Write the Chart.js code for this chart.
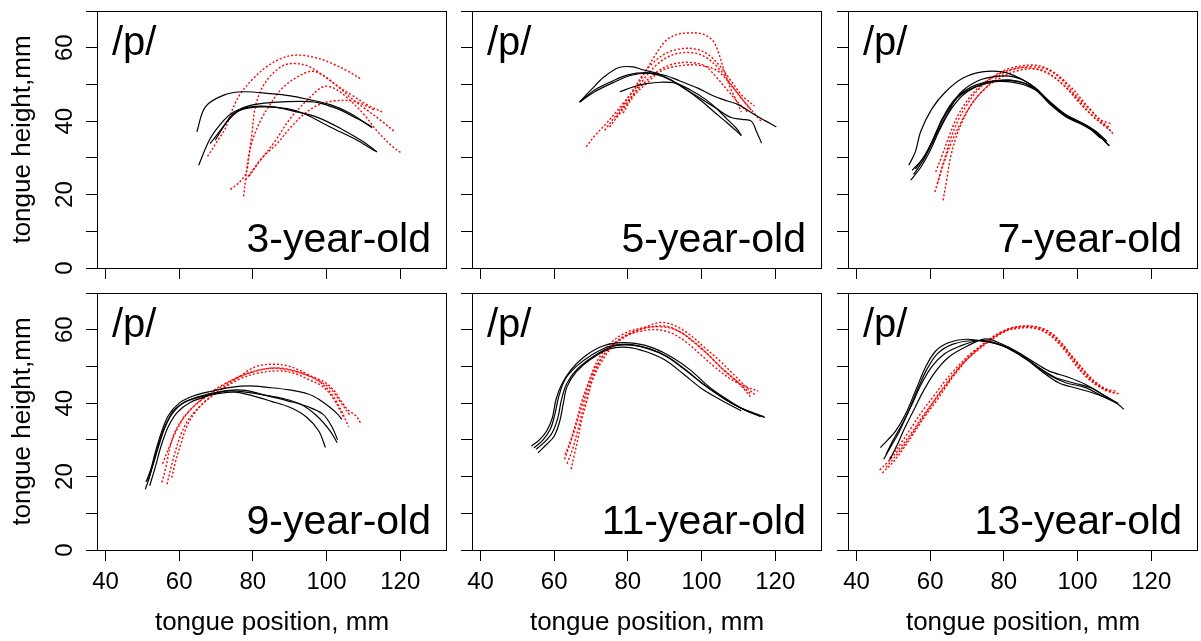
<!DOCTYPE html>
<html>
<head>
<meta charset="utf-8">
<script src="https://cdn.jsdelivr.net/npm/chart.js@4"></script>
<style>
  body { margin: 0; background: #fff; width: 1201px; height: 641px; position: relative; overflow: hidden; }
  canvas { position: absolute; }
</style>
</head>
<body>
<script>
const xTicks = [40, 60, 80, 100, 120];
const xLabels = [40, 60, 80, 100, 120];
const yTicks = [0, 10, 20, 30, 40, 50, 60, 70];
const yLabels = [0, 20, 40, 60];
const ageLabels = ['3-year-old', '5-year-old', '7-year-old', '9-year-old', '11-year-old', '13-year-old'];
const phoneme = '/p/';
const xTitle = 'tongue position, mm';
const yTitle = 'tongue height,mm';

// each curve is a list of [position, height] points
const black3 = [
  [[64.8,37.1],[67.1,43.9],[72.1,47.1],[77.5,48.0],[84.7,47.5],[90.2,46.9],[94.7,46.0],[101.0,44.5],[106.5,42.1],[112.4,38.2]],
  [[65.3,28.0],[68.4,35.2],[72.1,40.2],[74.8,42.5],[79.3,44.3],[85.6,45.1],[92.9,45.4],[97.4,45.1],[102.9,43.4],[108.3,40.7],[112.4,38.4]],
  [[68.4,33.9],[71.6,38.0],[74.8,42.1],[79.3,43.9],[85.6,43.9],[92.0,42.5],[97.4,41.1],[103.8,38.0],[110.1,34.3],[113.7,31.6]],
  [[69.8,34.8],[73.0,39.8],[76.6,43.0],[82.9,43.9],[89.3,43.4],[93.8,42.1],[101.0,38.4],[108.3,34.8],[113.3,31.8]]
];
const red3 = [
  [[67.7,30.4],[70,34],[72.5,38],[74,42],[75.5,45.5],[77,48],[80,51.5],[84,55],[88,57.2],[92,58],[97,57.3],[102,55.5],[106,53.5],[109.2,51.6]],
  [[73.9,21.4],[76.5,23.5],[78.2,26],[79,31],[79.8,37],[80.5,43],[82,48],[84.5,52],[88,55],[91,55.7],[95,55],[99,52.5],[103,49.5],[107,47],[111,44.5],[115.1,42.5]],
  [[77.5,19.5],[78,24],[78.8,30],[80,35],[82,40],[85,45],[88,49],[92,52],[96,53.6],[99,52.5],[103,49.5],[107,46],[111,43],[115,40],[118.3,37.3]],
  [[78,24],[81,28],[86,34.5],[90,40.5],[95,46],[99,49.3],[102,49],[106,46],[110,42],[114,37],[118,33],[120.5,31.2]],
  [[79,25],[82.5,30],[86.6,33.9],[90,38],[94,42],[98,44.5],[102,45.5],[107,45.5],[110,44.5],[113,43]]
];

const black5 = [
  [[66.9,45.2],[70,48.5],[73.5,52],[77.6,54.6],[81.4,54.8],[84,54],[88,53],[92,51],[96,48.5],[100,46],[104,43.5],[108,41],[111,40.5],[113.5,40],[115,37],[116.3,34.0]],
  [[66.9,45.2],[71,48.5],[76,51],[80,52.6],[85,53.2],[90,52.5],[94,51],[99,49],[103,47],[107,45.5],[110,44.5],[114,42],[117.5,40],[120.3,38.4]],
  [[66.9,45.2],[71,48],[76,50.5],[81,52.5],[86,53],[91,51.5],[96,48.5],[100,45.5],[104,42],[107,39.5],[110.8,36.1]],
  [[77.8,48],[81.4,49.3],[85,50.2],[89,50.6],[93,50.3],[97,48.5],[101,46],[104,43.5],[107,40.5],[109.5,38],[110.8,36.1]]
];
const red5 = [
  [[68.7,33.0],[71,36],[74.1,39.3],[78.7,44.8],[82.3,49.3],[85,53.9],[87.7,58.4],[90.4,62],[93,63.5],[96,64],[100,63.8],[103,62],[104.5,59],[105.8,54.8],[107.7,49.3],[109.5,45.5],[110.8,42.5]],
  [[73.7,37.5],[77.8,43],[81.4,48.4],[84.2,52.9],[87.5,56.5],[91,58.8],[95,59.8],[99,59.5],[102,58],[105,55],[108,51],[111,47],[114.4,44.1]],
  [[75,38.4],[80,45],[84,51],[88,55.5],[92,58],[97,58.7],[101,57.5],[105,54],[108,50],[111,46],[113.5,43]],
  [[76.9,41.1],[80,45.5],[84,50],[88,53.5],[92,55.5],[97,56],[101,55],[104,52],[107,48.5],[110,45],[112.5,42.5]],
  [[78.7,42.2],[81.4,46.6],[85,50.2],[89.5,53.9],[95,55.2],[99.5,55.2],[104,53.9],[107.7,50.2],[111.3,45.7],[116.3,39.8]]
];

const black7 = [
  [[54.2,28.0],[56.0,31.7],[57.4,37.1],[60.5,43.4],[64.2,48.0],[68.7,51.6],[74.1,53.4],[79.6,53.4],[84.1,51.8],[88.6,49],[92.3,45.5],[96.8,41.8],[101.3,39.5],[104.9,37.3],[108,34.5]],
  [[55.1,26.6],[57.8,29.5],[60.5,34.4],[63.3,40.7],[66.9,46.2],[72.3,49.8],[78.7,51.1],[84.1,50.7],[88.6,48.9],[92.3,45.2],[96.8,41.6],[101.3,39.3],[104.9,37.1],[108.6,33.3]],
  [[54.7,23.9],[57.5,27.5],[60,32],[62.5,37.5],[65.5,43],[69,47.2],[74,50],[79,50.8],[84,50.3],[88.6,48.5],[92.3,44.8],[96.8,41.2],[101.3,39],[104.9,36.8],[108.6,33.3]],
  [[55.5,25.5],[58.5,30],[61,35.5],[64,41.5],[67.5,46.5],[72,49.2],[77,50.7],[82,51.2],[86,50.2],[90,47.5],[94,43.5],[98,40.7],[102,39],[106.3,35.3]],
  [[56,27],[59.5,32],[62,37],[65,42.5],[68,47.5],[73,51],[78,52.2],[83,52],[87,50.2],[91,46.5],[95,42.8],[99,40.2],[103,38.5],[107,35]]
];
const red7 = [
  [[61.3,20.7],[62.5,25],[64,30],[65.5,35],[67.5,40],[70,44.5],[73,48.5],[77,52],[81,54.2],[86,55.2],[90,55],[94,53],[98,49.5],[101.5,45.5],[105,41.5],[108,38.5],[109.9,36.2]],
  [[63.5,18.4],[64.5,24],[65.5,30],[67,35.5],[69,40.5],[71.5,45],[75,49],[79,52.5],[84,54.5],[88,54.3],[92,53],[96,50],[100,46],[103.5,42],[106.5,39.5],[108.6,38.4]],
  [[61.5,26.2],[63,30],[65,35.5],[67,40.5],[70,45.5],[73.5,49.5],[78,52.5],[83,54.3],[88,54.8],[92,54],[96,51],[99.5,47],[103,43.5],[106,40.5],[109,39.3]],
  [[62,23],[63.5,28],[65.5,33.5],[68,39],[70.5,43.5],[74,48],[78.5,51.5],[84,53.8],[89,54.2],[93,52.5],[97,49],[100.5,45],[104,41.5],[107.5,38.5],[109.5,37]]
];

const black9 = [
  [[51,18.5],[52.3,22],[53.5,26.5],[55,31.5],[57,36.5],[60,40],[64,42],[69,43.3],[74,44.3],[79,44.7],[84,44.3],[90,43.6],[95,42.5],[98,41],[101,38.8],[103,37],[104.2,35.6]],
  [[50.8,16.5],[52,20],[53.3,25],[54.8,30],[56.5,34.5],[59,38.5],[63,41],[68,42.5],[73,43.3],[78,43],[83,42.2],[88,41.3],[93,39.7],[97.4,36.5],[101,32.4],[102.9,29.2]],
  [[51.5,18.8],[53,23.5],[54.5,28.5],[56,33],[58,37],[61,40],[65,41.5],[70,42.5],[75,43],[80,42],[85,40.5],[90.2,38.8],[94.7,36.1],[97.9,32.4],[99.7,27.9]],
  [[52,17.5],[53.5,22.5],[55,28],[57,33.5],[59.5,37.5],[63,40.2],[68,42],[73,43.4],[78,43.5],[84,42],[90,40.5],[95,39],[99,37],[101.5,33.5],[103,30]]
];
const red9 = [
  [[55.3,18.4],[56.5,23],[57.5,28],[59,32.5],[61.5,36.5],[65,40],[70,43.5],[75,46.5],[80,48.5],[85,49.5],[90,49],[95,47.5],[99,46],[102,43.5],[104,40.5],[106,38],[108,36.5],[109.2,34.7]],
  [[56.7,17.9],[57.8,22.5],[59,27],[60.5,31.5],[62.5,35.5],[66,39.5],[71,43.5],[76,47],[81,50],[86,50.6],[90,50],[94,48.3],[98,46],[101,43],[103.5,39],[106,33.6]],
  [[58,19.7],[59,24],[60.5,29],[62,33.5],[64,37],[67,40.5],[72,44],[77,46.8],[82,48.3],[87,48.8],[91,48.2],[95,46.5],[99,44.5],[102,41],[104.7,36.1]],
  [[55.5,23.5],[57.5,28.5],[59.5,33],[62,37],[66,41],[71,44.5],[77,47.5],[83,49.3],[88,49.5],[93,48.3],[97,46.5],[101,44],[104,40],[106.5,36.5]]
];

const black11 = [
  [[53.8,28.3],[56,30],[58,32.5],[59.5,36],[60.5,41],[62,45],[64.5,49],[68,52.5],[72.5,55.3],[77,56.4],[82,56.3],[87,55],[92,52.5],[97,49],[102,44.5],[107,41],[112,38],[117.2,36.1]],
  [[54.5,27.8],[57,30],[59,33],[60.2,37],[61.3,42],[63,46.5],[66,50],[70,53],[75,55.5],[80,56],[85,55],[90,53],[95,49.5],[100,45.5],[105,42],[110,39],[115,37],[117,36.3]],
  [[55.6,26.5],[58,28.8],[60,31],[61.5,35],[62.5,40],[63.5,44.5],[66,48.5],[70,52],[75,54.8],[80,55.2],[85,54],[90,51.8],[95,48],[100,44],[105,41],[110.8,37.9]],
  [[55.1,27.4],[57.5,29.5],[59.5,32],[61,36],[62,41],[63.5,45.5],[66.5,49.5],[71,53],[76,55.5],[81,55.8],[86,54.8],[91,52.5],[96,48.8],[101,44.8],[106,41.3],[111,38.5],[116,36.3]]
];
const red11 = [
  [[62.8,24.7],[64,28],[65.5,32.5],[67,37.5],[68.5,42.5],[70,47.5],[72,52],[75,56],[79,59],[84,60.5],[89,60.8],[93,60],[97,57.5],[101,54],[105,50],[109,46.5],[113.5,42.4]],
  [[64.6,22],[65.5,26],[66.5,30.5],[67.5,35.5],[69,41],[70.5,46.5],[73,51.5],[76,55.5],[80,58.5],[85,60.8],[89,62],[93,61],[97,58.5],[101,55],[105,51.5],[109,47.5],[112,44.5],[114.9,42]],
  [[63.5,23.5],[65,27.5],[66.5,33],[68,39],[69.5,44.5],[71.5,49.5],[74,54],[78,57.5],[83,59.5],[88,60],[92,59],[96,56.5],[100,53],[104,49.5],[108,46.5],[112,44.5],[115.4,43.3]],
  [[63,26],[64.5,30],[66,35],[67.5,40.5],[69.5,46],[72,51],[75.5,55.5],[80,58.8],[85,60.5],[90,61],[94,59.5],[98,56.5],[102,53],[106,49],[110,45.5],[113.5,41.5]]
];

const black13 = [
  [[46.5,27.9],[48.5,30],[50.6,32.4],[53.3,37],[56,43.3],[58.7,49.7],[61.5,54.2],[65.1,56.5],[69.6,57.4],[74.1,56.9],[78.7,56],[83.2,54.2],[87.7,51.5],[92.2,48.8],[97.7,47],[102.2,45.1],[106.7,42.4],[110.4,40.2],[112.6,38.3]],
  [[47.4,24.7],[49.5,28.5],[51.5,32],[54,37.5],[56.5,43.5],[59,49],[62,53.5],[66,56],[71,57],[76,56.8],[80,55.5],[84.5,53],[89,50],[94,47],[99,45.5],[104,44],[109,41],[111,40]],
  [[48,26],[50,30],[52.5,34.5],[55,39.5],[57.5,45],[60.5,50],[64,53.5],[68,55.5],[73,57],[77,56.5],[81,55],[86,52],[90.5,48.5],[95,45.5],[100,44],[105,42.5],[110,40.5]],
  [[49,24.5],[51,28.5],[53,33],[55.5,38],[58,43],[61,48],[65,52.5],[70,55.5],[75,57.5],[79,56.3],[83.5,54],[88,50.8],[92.5,47.5],[97,45.5],[102,44.3],[107,41.8],[111,39.8]]
];
const red13 = [
  [[46.3,21.8],[49,24.5],[52,28],[55,32],[58,36.5],[61,40.5],[64,44.5],[67,48.5],[70,52],[74,55.5],[78,58.5],[82,60.5],[86,61],[90,60.5],[93,59],[96,56],[99,52],[102,48.5],[105,45.5],[108,43.5],[111.7,42.4]],
  [[47,21],[50,24],[53,28],[56,32.5],[59,37],[62,41],[65,45.5],[68,49.5],[71.5,53.5],[75.5,57],[79.5,59.5],[84,60.8],[88,60.5],[92,59],[95,56.5],[98,53],[101,49],[104,46],[107,44],[110.4,43.3]],
  [[48,22.5],[51,26],[54,30],[57,34.5],[60,39],[63,43.5],[66,47.5],[69,51],[73,54.5],[77,57.5],[81,59.8],[85,60.5],[89,60.3],[92.5,58.5],[96,55],[99,51],[102,47.5],[105,45],[108,43.3],[110,42.8]],
  [[49,25],[52,29],[55,33.5],[58,38],[61,42],[64,46],[67.5,50],[71,53.5],[75,56.5],[79,59],[83,60.5],[87,61],[91,60],[94.5,57.5],[97.5,54],[100.5,50.5],[103.5,47],[106.5,44.5],[109,43.3]]
];

const panelBlack = [black3, black5, black7, black9, black11, black13];
const panelRed = [red3, red5, red7, red9, red11, red13];

Chart.defaults.font.family = "'Liberation Sans', Arial, sans-serif";
Chart.defaults.color = '#000';

const colLeft = [0, 375, 751];
const rowTop = [0, 282];
const W = 451, H = 359;

const panelText = {
  id: 'panelText',
  afterDraw(chart, args, opts) {
    const { ctx, chartArea: a, scales } = chart;
    ctx.save();
    ctx.strokeStyle = '#000';
    ctx.lineWidth = 1;
    ctx.strokeRect(a.left + 0.5, a.top + 0.5, a.right - a.left - 1, a.bottom - a.top);
    ctx.fillStyle = '#000';
    ctx.textBaseline = 'alphabetic';
    ctx.font = "40px 'Liberation Sans', Arial, sans-serif";
    ctx.textAlign = 'left';
    ctx.fillText(phoneme, a.left + 15, a.top + 44);
    ctx.font = "41px 'Liberation Sans', Arial, sans-serif";
    ctx.textAlign = 'right';
    ctx.fillText(opts.age, a.right - 16, a.bottom - 16);

    if (opts.left) {
      ctx.font = "24px 'Liberation Sans', Arial, sans-serif";
      ctx.textAlign = 'center';
      yLabels.forEach(v => {
        ctx.save();
        ctx.translate(a.left - 25, scales.y.getPixelForValue(v));
        ctx.rotate(-Math.PI / 2);
        ctx.fillText(String(v), 0, 0);
        ctx.restore();
      });
      ctx.font = "26px 'Liberation Sans', Arial, sans-serif";
      ctx.save();
      ctx.translate(30, (a.top + a.bottom) / 2);
      ctx.rotate(-Math.PI / 2);
      ctx.fillText(yTitle, 0, 0);
      ctx.restore();
    }
    if (opts.bottom) {
      ctx.font = "24px 'Liberation Sans', Arial, sans-serif";
      ctx.textAlign = 'center';
      xLabels.forEach(v => {
        ctx.fillText(String(v), scales.x.getPixelForValue(v), a.bottom + 38.5);
      });
      ctx.font = "26px 'Liberation Sans', Arial, sans-serif";
      ctx.fillText(xTitle, (a.left + a.right) / 2, a.bottom + 80);
    }
    ctx.restore();
  }
};

function axisGrid() {
  return { display: true, drawOnChartArea: false, drawTicks: true, tickLength: 11, color: '#000', lineWidth: 1 };
}

function makePanel(i) {
  const col = i % 3, row = Math.floor(i / 3);
  const canvas = document.createElement('canvas');
  canvas.width = W;
  canvas.height = H;
  canvas.style.left = colLeft[col] + 'px';
  canvas.style.top = rowTop[row] + 'px';
  canvas.style.width = W + 'px';
  canvas.style.height = H + 'px';
  document.body.appendChild(canvas);

  const datasets = [];
  panelBlack[i].forEach(c => datasets.push({
    data: c.map(p => ({ x: p[0], y: p[1] })),
    showLine: true, borderColor: '#000', borderWidth: 1.2, pointRadius: 0, tension: 0.35
  }));
  panelRed[i].forEach(c => datasets.push({
    data: c.map(p => ({ x: p[0], y: p[1] })),
    showLine: true, borderColor: '#ff0000', borderWidth: 1.4, borderDash: [2, 2], pointRadius: 0, tension: 0.35
  }));

  new Chart(canvas, {
    type: 'scatter',
    data: { datasets },
    options: {
      responsive: false,
      animation: false,
      devicePixelRatio: 1,
      layout: { padding: { top: 11, right: 4, left: 0, bottom: 0 } },
      plugins: {
        legend: { display: false },
        tooltip: { enabled: false },
        panelText: { age: ageLabels[i], left: col === 0, bottom: row === 1 }
      },
      scales: {
        x: {
          type: 'linear', min: 37.7, max: 132.7,
          afterBuildTicks: s => { s.ticks = xTicks.map(v => ({ value: v })); },
          afterFit: s => { s.height = 91; },
          ticks: { display: false },
          grid: axisGrid(),
          border: { display: false }
        },
        y: {
          type: 'linear', min: 0, max: 70,
          afterBuildTicks: s => { s.ticks = yTicks.map(v => ({ value: v })); },
          afterFit: s => { s.width = 97; },
          ticks: { display: false },
          grid: axisGrid(),
          border: { display: false }
        }
      }
    },
    plugins: [panelText]
  });
}

for (let i = 0; i < 6; i++) makePanel(i);
</script>
</body>
</html>
